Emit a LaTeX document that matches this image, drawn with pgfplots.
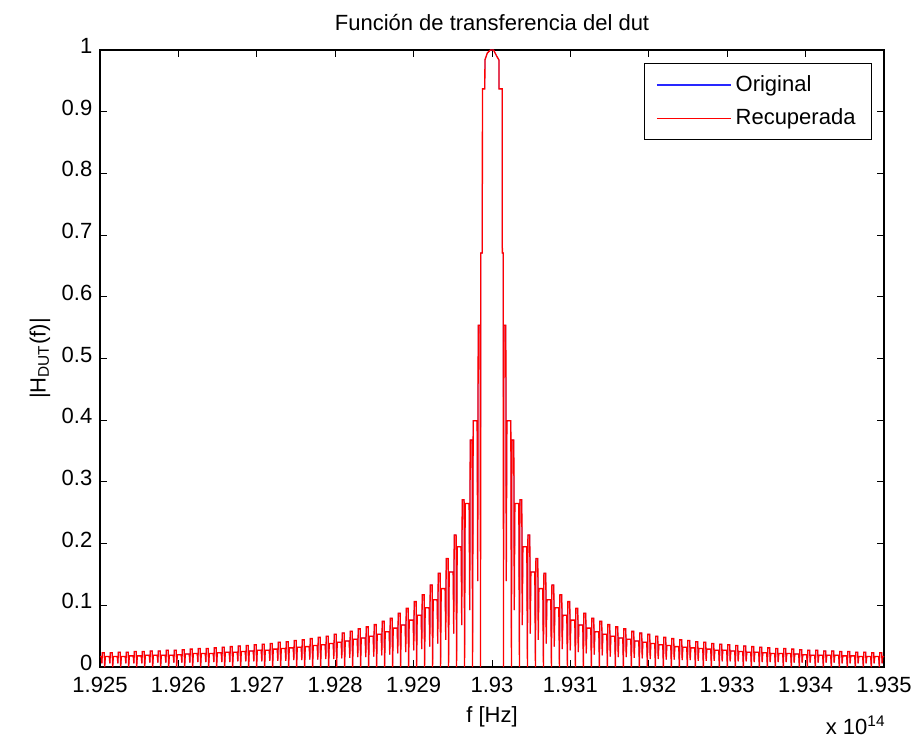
\documentclass[border=0pt]{standalone}
\usepackage{fontspec}
\setmainfont{Liberation Sans}
\usepackage{pgfplots}
\usepackage{pgfplotstable}
\pgfplotsset{compat=1.18}

% x = f - 1.93e14 in GHz ; y = |H_DUT(f)|
\pgfplotstableread[row sep=\\]{
x y\\
-500 0.017\\ -498.4 0.017\\ -497.6 0.006\\ -497.0 0.023\\ -494.6 0.023\\ -494.0 0\\
-493.2 0.017\\ -488.2 0.017\\ -487.4 0.006\\ -486.8 0.023\\ -484.4 0.023\\ -483.8 0\\
-483.0 0.017\\ -478.0 0.017\\ -477.2 0.006\\ -476.6 0.024\\ -474.2 0.024\\ -473.6 0\\
-472.8 0.017\\ -467.8 0.017\\ -467.0 0.006\\ -466.4 0.024\\ -464.0 0.024\\ -463.4 0\\
-462.6 0.018\\ -457.6 0.018\\ -456.8 0.006\\ -456.2 0.025\\ -453.8 0.025\\ -453.2 0\\
-452.4 0.018\\ -447.4 0.018\\ -446.6 0.006\\ -446.0 0.025\\ -443.6 0.025\\ -443.0 0\\
-442.2 0.019\\ -437.2 0.019\\ -436.4 0.007\\ -435.8 0.026\\ -433.4 0.026\\ -432.8 0\\
-432.0 0.019\\ -427.0 0.019\\ -426.2 0.007\\ -425.6 0.026\\ -423.2 0.026\\ -422.6 0\\
-421.8 0.019\\ -416.8 0.019\\ -416.0 0.007\\ -415.4 0.027\\ -413.0 0.027\\ -412.4 0\\
-411.6 0.019\\ -406.6 0.019\\ -405.8 0.007\\ -405.2 0.027\\ -402.8 0.027\\ -402.2 0\\
-401.4 0.020\\ -396.4 0.020\\ -395.6 0.007\\ -395.0 0.028\\ -392.6 0.028\\ -392.0 0\\
-391.2 0.021\\ -386.2 0.021\\ -385.4 0.007\\ -384.8 0.029\\ -382.4 0.029\\ -381.8 0\\
-381.0 0.022\\ -376.0 0.022\\ -375.2 0.008\\ -374.6 0.030\\ -372.2 0.030\\ -371.6 0\\
-370.8 0.022\\ -365.8 0.022\\ -365.0 0.008\\ -364.4 0.030\\ -362.0 0.030\\ -361.4 0\\
-360.6 0.022\\ -355.6 0.022\\ -354.8 0.008\\ -354.2 0.031\\ -351.8 0.031\\ -351.2 0\\
-350.4 0.023\\ -345.4 0.023\\ -344.6 0.008\\ -344.0 0.032\\ -341.6 0.032\\ -341.0 0\\
-340.2 0.024\\ -335.2 0.024\\ -334.4 0.008\\ -333.8 0.033\\ -331.4 0.033\\ -330.8 0\\
-330.0 0.024\\ -325.0 0.024\\ -324.2 0.009\\ -323.6 0.034\\ -321.2 0.034\\ -320.6 0\\
-319.8 0.025\\ -314.8 0.025\\ -314.0 0.009\\ -313.4 0.035\\ -311.0 0.035\\ -310.4 0\\
-309.6 0.026\\ -304.6 0.026\\ -303.8 0.009\\ -303.2 0.036\\ -300.8 0.036\\ -300.2 0\\
-299.4 0.027\\ -294.4 0.027\\ -293.6 0.009\\ -293.0 0.037\\ -290.6 0.037\\ -290.0 0\\
-289.2 0.027\\ -284.2 0.027\\ -283.4 0.010\\ -282.8 0.038\\ -280.4 0.038\\ -279.8 0\\
-279.0 0.029\\ -274.0 0.029\\ -273.2 0.010\\ -272.6 0.040\\ -270.2 0.040\\ -269.6 0\\
-268.8 0.030\\ -263.8 0.030\\ -263.0 0.010\\ -262.4 0.041\\ -260.0 0.041\\ -259.4 0\\
-258.6 0.031\\ -253.6 0.031\\ -252.8 0.011\\ -252.2 0.043\\ -249.8 0.043\\ -249.2 0\\
-248.4 0.032\\ -243.4 0.032\\ -242.6 0.011\\ -242.0 0.044\\ -239.6 0.044\\ -239.0 0\\
-238.2 0.033\\ -233.2 0.033\\ -232.4 0.012\\ -231.8 0.046\\ -229.4 0.046\\ -228.8 0\\
-228.0 0.035\\ -223.0 0.035\\ -222.2 0.012\\ -221.6 0.048\\ -219.2 0.048\\ -218.6 0\\
-217.8 0.036\\ -212.8 0.036\\ -212.0 0.013\\ -211.4 0.050\\ -209.0 0.050\\ -208.4 0\\
-207.6 0.038\\ -202.6 0.038\\ -201.8 0.013\\ -201.2 0.053\\ -198.8 0.053\\ -198.2 0\\
-197.4 0.040\\ -192.4 0.040\\ -191.6 0.014\\ -191.0 0.055\\ -188.6 0.055\\ -188.0 0\\
-187.2 0.042\\ -182.2 0.042\\ -181.4 0.015\\ -180.8 0.058\\ -178.4 0.058\\ -177.8 0\\
-177.0 0.045\\ -172.0 0.045\\ -171.2 0.016\\ -170.6 0.062\\ -168.2 0.062\\ -167.6 0\\
-166.8 0.047\\ -161.8 0.047\\ -161.0 0.016\\ -160.4 0.065\\ -158.0 0.065\\ -157.4 0\\
-156.6 0.050\\ -151.6 0.050\\ -150.8 0.017\\ -150.2 0.069\\ -147.8 0.069\\ -147.2 0\\
-146.4 0.053\\ -141.4 0.053\\ -140.6 0.019\\ -140.0 0.074\\ -137.6 0.074\\ -137.0 0\\
-136.2 0.057\\ -131.2 0.057\\ -130.4 0.020\\ -129.8 0.079\\ -127.4 0.079\\ -126.8 0\\
-126.0 0.063\\ -121.0 0.063\\ -120.2 0.022\\ -119.6 0.087\\ -117.2 0.087\\ -116.6 0\\
-115.8 0.068\\ -110.8 0.068\\ -110.0 0.024\\ -109.4 0.095\\ -107.0 0.095\\ -106.4 0\\
-105.6 0.076\\ -100.6 0.076\\ -99.8 0.027\\ -99.2 0.106\\ -96.8 0.106\\ -96.2 0\\
-95.4 0.084\\ -90.4 0.084\\ -89.6 0.029\\ -89.0 0.117\\ -86.6 0.117\\ -86.0 0\\
-85.2 0.096\\ -80.2 0.096\\ -79.4 0.033\\ -78.8 0.133\\ -76.4 0.133\\ -75.8 0\\
-75.0 0.109\\ -70.0 0.109\\ -69.2 0.038\\ -68.6 0.152\\ -66.2 0.152\\ -65.6 0\\
-64.8 0.127\\ -59.8 0.127\\ -59.0 0.044\\ -58.4 0.176\\ -56.0 0.176\\ -55.4 0\\
-54.6 0.154\\ -49.6 0.154\\ -48.8 0.054\\ -48.2 0.214\\ -45.8 0.214\\ -45.2 0\\
-44.4 0.195\\ -39.4 0.195\\ -38.6 0.068\\ -38.0 0.271\\ -35.6 0.271\\ -35.0 0\\
-34.2 0.265\\ -29.2 0.265\\ -28.4 0.092\\ -27.8 0.368\\ -25.4 0.368\\ -24.8 0\\
-24.0 0.399\\ -19.0 0.399\\ -18.2 0.139\\ -17.6 0.554\\ -15.2 0.554\\ -14.6 0\\
-14.4 0.671\\ -12.4 0.671\\ -12.2 0.937\\ -9.2 0.937\\ -9.0 0.984\\ -6.0 0.995\\ -2.0 1.000\\
2.0 1.000\\ 6.0 0.990\\ 8.8 0.984\\ 9.0 0.937\\ 13.0 0.937\\ 13.2 0.671\\ 14.4 0.671\\ 14.6 0\\
15.2 0.554\\ 17.6 0.554\\ 18.2 0.139\\ 19.0 0.399\\ 24.0 0.399\\ 24.8 0\\
25.4 0.368\\ 27.8 0.368\\ 28.4 0.092\\ 29.2 0.265\\ 34.2 0.265\\ 35.0 0\\
35.6 0.271\\ 38.0 0.271\\ 38.6 0.068\\ 39.4 0.195\\ 44.4 0.195\\ 45.2 0\\
45.8 0.214\\ 48.2 0.214\\ 48.8 0.054\\ 49.6 0.154\\ 54.6 0.154\\ 55.4 0\\
56.0 0.176\\ 58.4 0.176\\ 59.0 0.044\\ 59.8 0.127\\ 64.8 0.127\\ 65.6 0\\
66.2 0.152\\ 68.6 0.152\\ 69.2 0.038\\ 70.0 0.109\\ 75.0 0.109\\ 75.8 0\\
76.4 0.133\\ 78.8 0.133\\ 79.4 0.033\\ 80.2 0.096\\ 85.2 0.096\\ 86.0 0\\
86.6 0.117\\ 89.0 0.117\\ 89.6 0.029\\ 90.4 0.084\\ 95.4 0.084\\ 96.2 0\\
96.8 0.106\\ 99.2 0.106\\ 99.8 0.027\\ 100.6 0.076\\ 105.6 0.076\\ 106.4 0\\
107.0 0.095\\ 109.4 0.095\\ 110.0 0.024\\ 110.8 0.068\\ 115.8 0.068\\ 116.6 0\\
117.2 0.087\\ 119.6 0.087\\ 120.2 0.022\\ 121.0 0.063\\ 126.0 0.063\\ 126.8 0\\
127.4 0.079\\ 129.8 0.079\\ 130.4 0.020\\ 131.2 0.057\\ 136.2 0.057\\ 137.0 0\\
137.6 0.074\\ 140.0 0.074\\ 140.6 0.019\\ 141.4 0.053\\ 146.4 0.053\\ 147.2 0\\
147.8 0.069\\ 150.2 0.069\\ 150.8 0.017\\ 151.6 0.050\\ 156.6 0.050\\ 157.4 0\\
158.0 0.065\\ 160.4 0.065\\ 161.0 0.016\\ 161.8 0.047\\ 166.8 0.047\\ 167.6 0\\
168.2 0.062\\ 170.6 0.062\\ 171.2 0.016\\ 172.0 0.045\\ 177.0 0.045\\ 177.8 0\\
178.4 0.058\\ 180.8 0.058\\ 181.4 0.015\\ 182.2 0.042\\ 187.2 0.042\\ 188.0 0\\
188.6 0.055\\ 191.0 0.055\\ 191.6 0.014\\ 192.4 0.040\\ 197.4 0.040\\ 198.2 0\\
198.8 0.053\\ 201.2 0.053\\ 201.8 0.013\\ 202.6 0.038\\ 207.6 0.038\\ 208.4 0\\
209.0 0.050\\ 211.4 0.050\\ 212.0 0.013\\ 212.8 0.036\\ 217.8 0.036\\ 218.6 0\\
219.2 0.048\\ 221.6 0.048\\ 222.2 0.012\\ 223.0 0.035\\ 228.0 0.035\\ 228.8 0\\
229.4 0.046\\ 231.8 0.046\\ 232.4 0.012\\ 233.2 0.033\\ 238.2 0.033\\ 239.0 0\\
239.6 0.044\\ 242.0 0.044\\ 242.6 0.011\\ 243.4 0.032\\ 248.4 0.032\\ 249.2 0\\
249.8 0.043\\ 252.2 0.043\\ 252.8 0.011\\ 253.6 0.031\\ 258.6 0.031\\ 259.4 0\\
260.0 0.041\\ 262.4 0.041\\ 263.0 0.010\\ 263.8 0.030\\ 268.8 0.030\\ 269.6 0\\
270.2 0.040\\ 272.6 0.040\\ 273.2 0.010\\ 274.0 0.029\\ 279.0 0.029\\ 279.8 0\\
280.4 0.038\\ 282.8 0.038\\ 283.4 0.010\\ 284.2 0.027\\ 289.2 0.027\\ 290.0 0\\
290.6 0.037\\ 293.0 0.037\\ 293.6 0.009\\ 294.4 0.027\\ 299.4 0.027\\ 300.2 0\\
300.8 0.036\\ 303.2 0.036\\ 303.8 0.009\\ 304.6 0.026\\ 309.6 0.026\\ 310.4 0\\
311.0 0.035\\ 313.4 0.035\\ 314.0 0.009\\ 314.8 0.025\\ 319.8 0.025\\ 320.6 0\\
321.2 0.034\\ 323.6 0.034\\ 324.2 0.009\\ 325.0 0.024\\ 330.0 0.024\\ 330.8 0\\
331.4 0.033\\ 333.8 0.033\\ 334.4 0.008\\ 335.2 0.024\\ 340.2 0.024\\ 341.0 0\\
341.6 0.032\\ 344.0 0.032\\ 344.6 0.008\\ 345.4 0.023\\ 350.4 0.023\\ 351.2 0\\
351.8 0.031\\ 354.2 0.031\\ 354.8 0.008\\ 355.6 0.022\\ 360.6 0.022\\ 361.4 0\\
362.0 0.030\\ 364.4 0.030\\ 365.0 0.008\\ 365.8 0.022\\ 370.8 0.022\\ 371.6 0\\
372.2 0.030\\ 374.6 0.030\\ 375.2 0.008\\ 376.0 0.022\\ 381.0 0.022\\ 381.8 0\\
382.4 0.029\\ 384.8 0.029\\ 385.4 0.007\\ 386.2 0.021\\ 391.2 0.021\\ 392.0 0\\
392.6 0.028\\ 395.0 0.028\\ 395.6 0.007\\ 396.4 0.020\\ 401.4 0.020\\ 402.2 0\\
402.8 0.027\\ 405.2 0.027\\ 405.8 0.007\\ 406.6 0.019\\ 411.6 0.019\\ 412.4 0\\
413.0 0.027\\ 415.4 0.027\\ 416.0 0.007\\ 416.8 0.019\\ 421.8 0.019\\ 422.6 0\\
423.2 0.026\\ 425.6 0.026\\ 426.2 0.007\\ 427.0 0.019\\ 432.0 0.019\\ 432.8 0\\
433.4 0.026\\ 435.8 0.026\\ 436.4 0.007\\ 437.2 0.019\\ 442.2 0.019\\ 443.0 0\\
443.6 0.025\\ 446.0 0.025\\ 446.6 0.006\\ 447.4 0.018\\ 452.4 0.018\\ 453.2 0\\
453.8 0.025\\ 456.2 0.025\\ 456.8 0.006\\ 457.6 0.018\\ 462.6 0.018\\ 463.4 0\\
464.0 0.024\\ 466.4 0.024\\ 467.0 0.006\\ 467.8 0.017\\ 472.8 0.017\\ 473.6 0\\
474.2 0.024\\ 476.6 0.024\\ 477.2 0.006\\ 478.0 0.017\\ 483.0 0.017\\ 483.8 0\\
484.4 0.023\\ 486.8 0.023\\ 487.4 0.006\\ 488.2 0.017\\ 493.2 0.017\\ 494.0 0\\
494.6 0.023\\ 497.0 0.023\\ 497.6 0.006\\ 498.4 0.017\\ 500 0.017\\
}\hdut

\begin{document}
\fontsize{11}{13}\selectfont
\begin{tikzpicture}
\begin{axis}[
  scale only axis,
  width=392pt, height=308.5pt,
  xmin=-500, xmax=500, ymin=0, ymax=1,
  xtick={-500,-400,-300,-200,-100,0,100,200,300,400,500},
  xticklabels={1.925,1.926,1.927,1.928,1.929,1.93,1.931,1.932,1.933,1.934,1.935},
  ytick={0,0.1,0.2,0.3,0.4,0.5,0.6,0.7,0.8,0.9,1},
  yticklabels={0,0.1,0.2,0.3,0.4,0.5,0.6,0.7,0.8,0.9,1},
  xticklabel style={inner ysep=0pt, yshift=-4.7pt},
  yticklabel style={inner ysep=0pt, yshift=2pt},
  tick align=inside,
  major tick length=3.5pt,
  axis line style={black, line width=0.6pt},
  every tick/.style={black, line width=0.5pt},
  title={Función de transferencia del dut},
  title style={at={(0.5,1)}, anchor=base, yshift=3.5pt},
  xlabel={f [Hz]},
  xlabel style={at={(axis description cs:0.5,-0.081)}, anchor=center},
  ylabel={|H\textsubscript{DUT}(f)|},
  ylabel style={at={(axis description cs:-0.0765,0.5)}, anchor=center},
  legend style={at={(1,1)}, anchor=north east, xshift=-6pt, yshift=-6.5pt,
    draw=black, line width=0.5pt, inner xsep=6pt, inner ysep=4pt,
    row sep=3pt, cells={anchor=west}, nodes={inner sep=2pt}},
  legend cell align=left,
  legend image code/.code={\draw[#1, line width=0.8pt] (0pt,0pt) -- (37pt,0pt);},
]
\addplot[color={rgb,255:red,40;green,40;blue,255}, line width=0.35pt] table[x=x, y=y] {\hdut};
\addlegendentry{Original}
\addplot[color={rgb,255:red,255;green,0;blue,0}, line width=0.65pt] table[x=x, y=y] {\hdut};
\addlegendentry{Recuperada}
\end{axis}
\node[anchor=base east, inner sep=0pt] at (393pt,-33.5pt) {x 10\textsuperscript{14}};
\pgfresetboundingbox
\path[use as bounding box] (-50pt,-35.5pt) rectangle (407pt,333.5pt);
\end{tikzpicture}
\end{document}
